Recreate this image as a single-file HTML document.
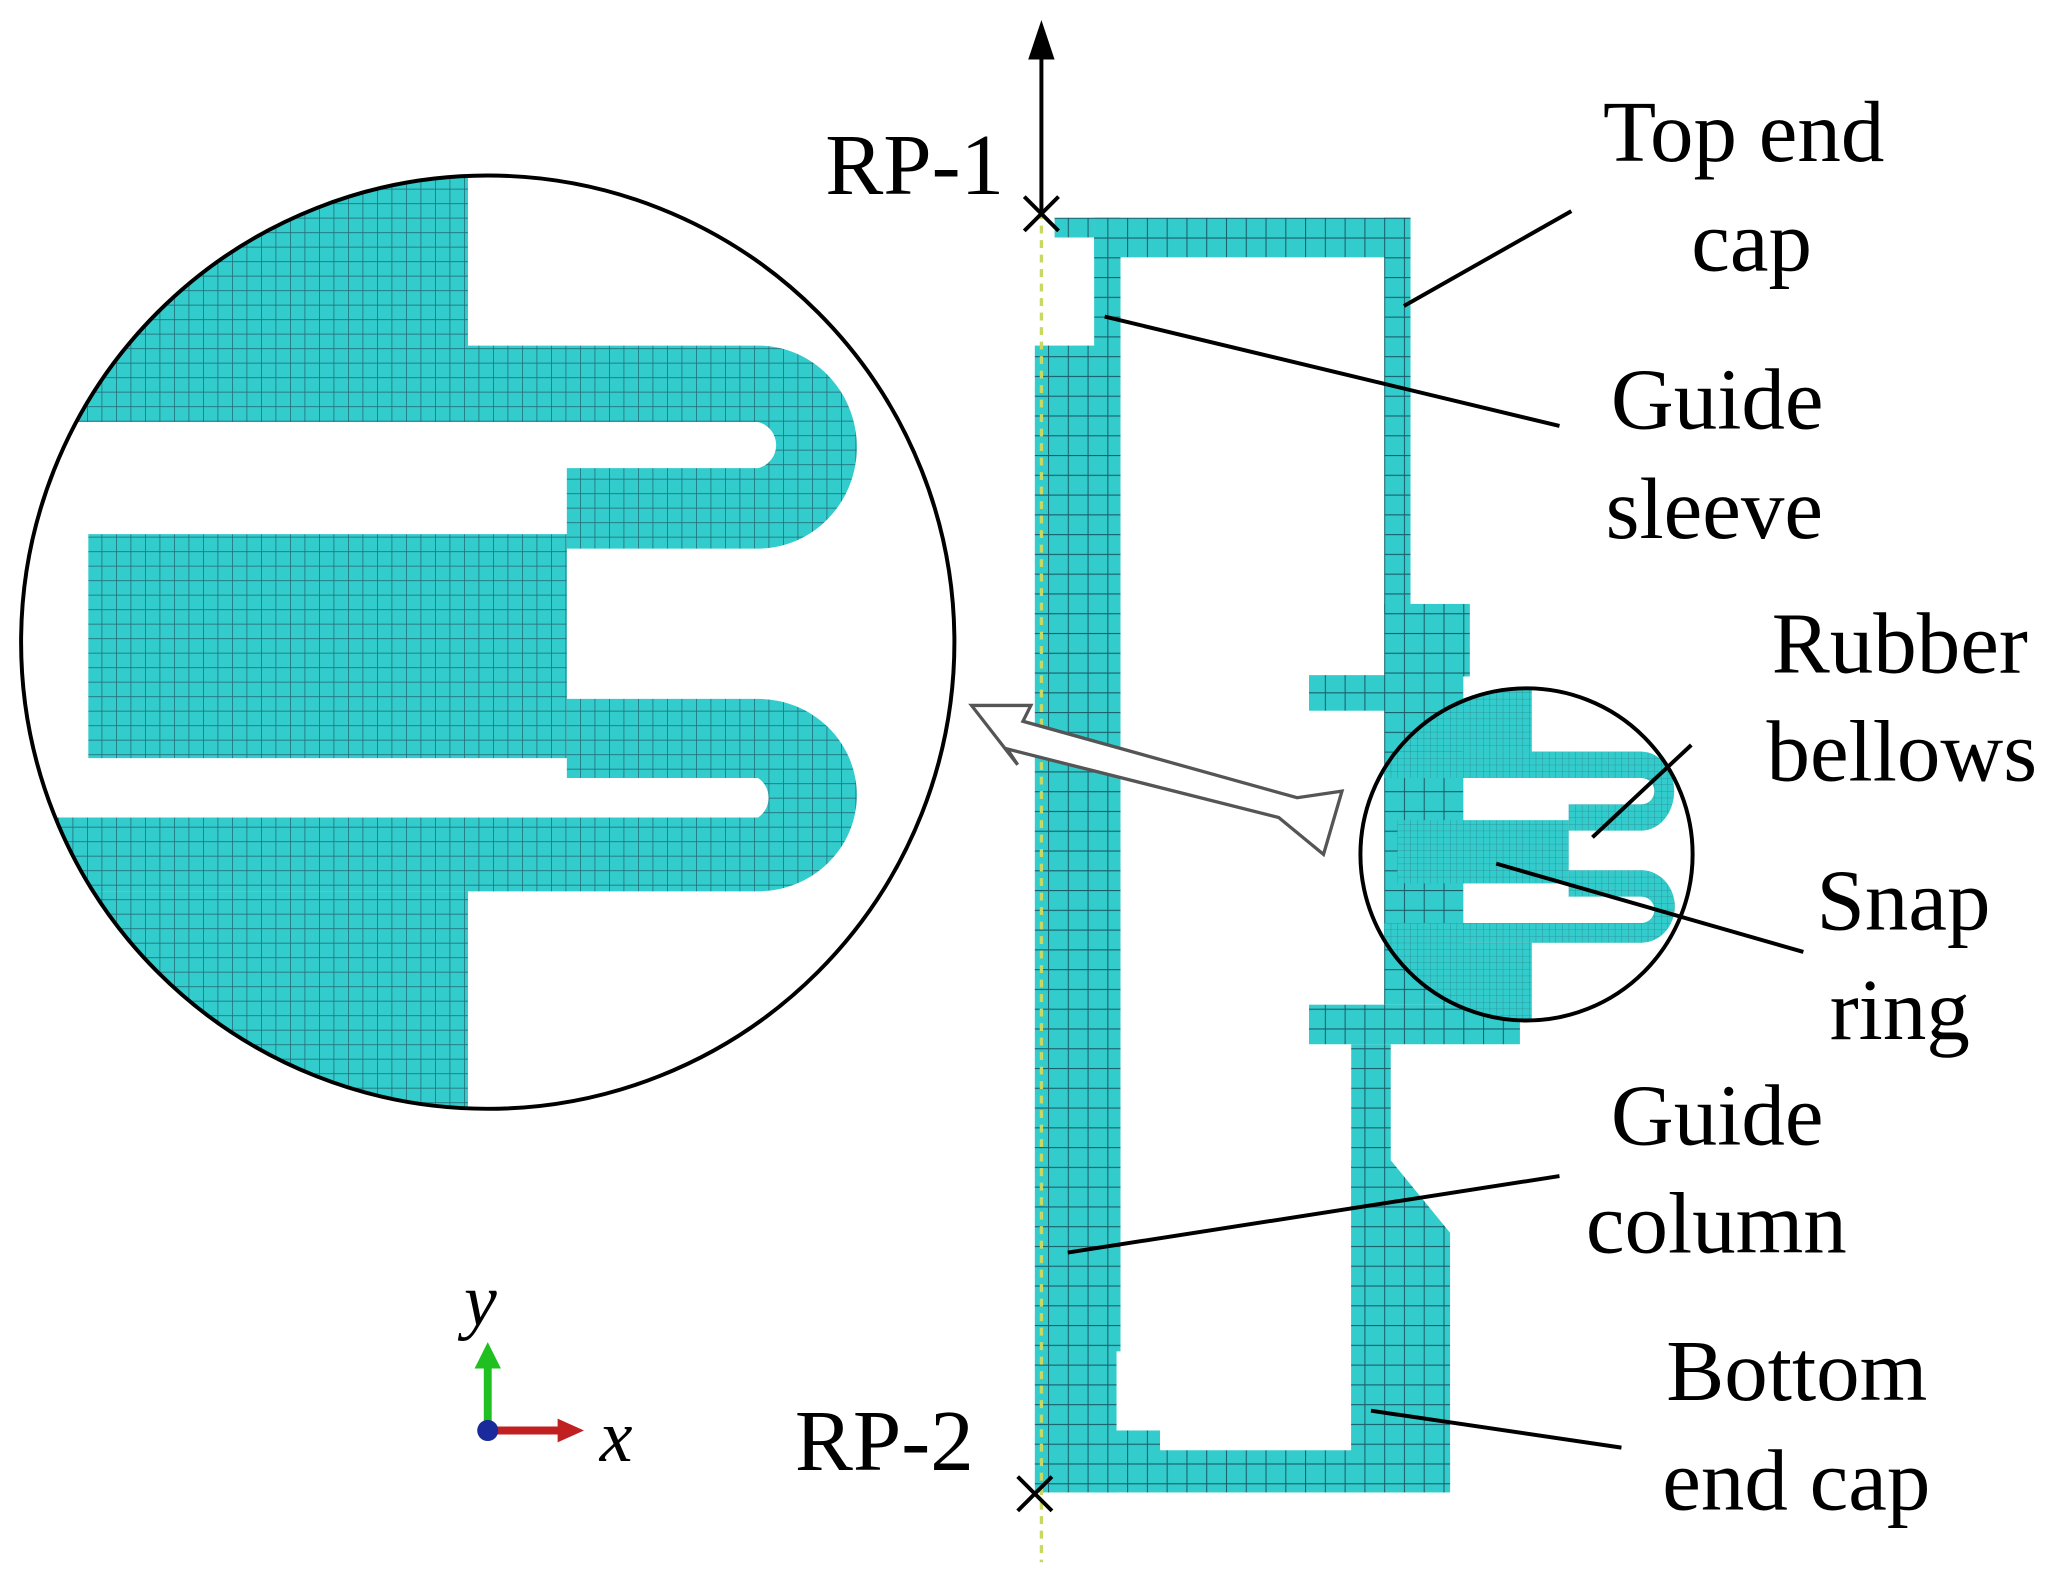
<!DOCTYPE html>
<html><head><meta charset="utf-8"><style>
html,body{margin:0;padding:0;background:#fff;}
svg{display:block;}
text{font-family:"Liberation Serif",serif;font-size:66px;fill:#000;}
</style></head><body>
<svg width="2067" height="1577" viewBox="0 0 1568 1196" xmlns="http://www.w3.org/2000/svg">
<defs>
<pattern id="g" width="15" height="15" patternUnits="userSpaceOnUse">
<rect width="15" height="15" fill="#33cccc"/>
<path d="M0 0H15M0 0V15" stroke="#1a5f6a" stroke-width="1.6"/>
</pattern>
<pattern id="gs" width="11" height="11" patternUnits="userSpaceOnUse">
<rect width="11" height="11" fill="#33cccc"/>
<path d="M0 0H11M0 0V11" stroke="#226f78" stroke-width="1.2"/>
</pattern>
<pattern id="gt" width="5" height="5" patternUnits="userSpaceOnUse">
<rect width="5" height="5" fill="#33cccc"/>
<path d="M0 0H5M0 0V5" stroke="#2a8a90" stroke-width="0.6"/>
</pattern>
<clipPath id="cb"><circle cx="370" cy="487" r="354"/></clipPath>
<clipPath id="cs"><circle cx="1158" cy="648" r="126"/></clipPath>
</defs>

<g clip-path="url(#cb)" fill="url(#gs)">
<rect x="0" y="120" width="355" height="150"/>
<path d="M0 262 H575 A75 77 0 0 1 575 416 H430 V355 H575 A18 18 0 0 0 575 320 H0 Z"/>
<path d="M67 405 H430 V575 H67 Z"/>
<path d="M430 530 H575 A75 73 0 0 1 575 676 H0 V620 H575 A18 18 0 0 0 575 590 H430 Z"/>
<rect x="0" y="676" width="355" height="180"/>
</g>
<circle cx="370" cy="487" r="354" fill="none" stroke="#000" stroke-width="3"/>

<g fill="url(#g)">
<rect x="785" y="262" width="62" height="870"/>
<rect x="830" y="165" width="240" height="30"/>
<rect x="830" y="165" width="20" height="860"/>
<rect x="800" y="165" width="30" height="15"/>
<rect x="1050" y="165" width="20" height="300"/>
<rect x="1050" y="458" width="65" height="55"/>
<rect x="993" y="512" width="70" height="27"/>
<rect x="1050" y="512" width="60" height="250"/>
<rect x="993" y="762" width="160" height="30"/>
<rect x="1025" y="792" width="30" height="310"/>
<path d="M1025 880 H1055 L1100 935 V1130 H1025 Z"/>
<rect x="830" y="1100" width="270" height="32"/>
<rect x="830" y="1085" width="50" height="20"/>
</g>
<g clip-path="url(#cs)" fill="url(#gt)">
<rect x="1050" y="520" width="112" height="50"/>
<path d="M1050 570 H1245 A25 30 0 0 1 1245 630 H1190 V610 H1245 A8 8 0 0 0 1245 590 H1050 Z"/>
<rect x="1060" y="622" width="130" height="48"/>
<path d="M1190 660 H1245 A25 27 0 0 1 1245 715 H1050 V700 H1245 A8 8 0 0 0 1245 680 H1190 Z"/>
<rect x="1050" y="715" width="112" height="60"/>
</g>
<circle cx="1158" cy="648" r="126" fill="none" stroke="#000" stroke-width="3"/>

<line x1="790" y1="160" x2="790" y2="1185" stroke="#c8d860" stroke-width="2.5" stroke-dasharray="6,5"/>
<line x1="790" y1="160" x2="790" y2="40" stroke="#000" stroke-width="3"/>
<path d="M790 15 L780 45 L800 45 Z" fill="#000"/>
<path d="M777 149 L803 175 M803 149 L777 175" stroke="#000" stroke-width="3"/>
<path d="M772 1120 L798 1146 M798 1120 L772 1146" stroke="#000" stroke-width="3"/>

<path d="M737 535 L782 535 L776 547 L984 605 L1018 600 L1004 648 L970 620 L764 568 L772 580 Z" fill="#fff" stroke="#555" stroke-width="2.5"/>

<g stroke="#000" stroke-width="3">
<line x1="1065" y1="232" x2="1192" y2="160"/>
<line x1="838" y1="240" x2="1183" y2="323"/>
<line x1="1208" y1="635" x2="1283" y2="565"/>
<line x1="1135" y1="655" x2="1368" y2="722"/>
<line x1="810" y1="950" x2="1183" y2="892"/>
<line x1="1040" y1="1070" x2="1230" y2="1098"/>
</g>

<text x="626" y="147">RP-1</text>
<text x="603" y="1115">RP-2</text>
<text x="1216" y="122">Top end</text>
<text x="1283" y="205">cap</text>
<text x="1222" y="325">Guide</text>
<text x="1218" y="408">sleeve</text>
<text x="1344" y="510">Rubber</text>
<text x="1340" y="592">bellows</text>
<text x="1378" y="705">Snap</text>
<text x="1388" y="788">ring</text>
<text x="1222" y="868">Guide</text>
<text x="1203" y="950">column</text>
<text x="1264" y="1062">Bottom</text>
<text x="1261" y="1145">end cap</text>

<line x1="370" y1="1085" x2="370" y2="1035" stroke="#20c020" stroke-width="6"/>
<path d="M370 1018 L360 1038 L380 1038 Z" fill="#20c020"/>
<line x1="370" y1="1085" x2="425" y2="1085" stroke="#c02020" stroke-width="6"/>
<path d="M443 1085 L423 1076 L423 1094 Z" fill="#c02020"/>
<circle cx="370" cy="1085" r="8" fill="#1a2a9a"/>
<text x="352" y="1005" style="font-style:italic;font-size:56px">y</text>
<text x="455" y="1108" style="font-style:italic;font-size:56px">x</text>
</svg>
</body></html>
